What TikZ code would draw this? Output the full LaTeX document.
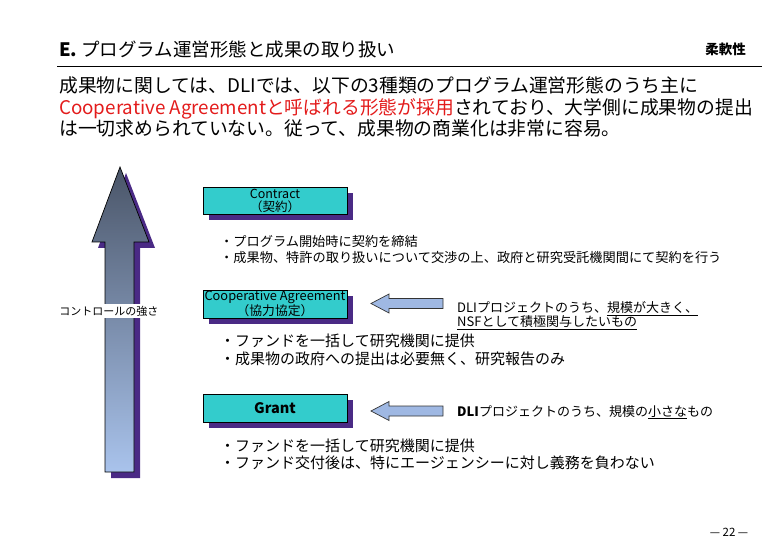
\documentclass[tikz,border=0pt]{standalone}
\usepackage{fontspec}
\setmainfont{Noto Sans CJK JP}
\usetikzlibrary{shadows}
\definecolor{boxfill}{HTML}{33CCCC}
\definecolor{shadowpurple}{HTML}{4A2A85}
\definecolor{arrowtop}{HTML}{4A5568}
\definecolor{arrowbottom}{HTML}{A9C3EC}
\definecolor{sideblue}{HTML}{9FB8E3}
\definecolor{textred}{HTML}{E31B1B}

\begin{document}
\begin{tikzpicture}[x=1pt, y=-1pt,
	formbox/.style={draw=black, fill=boxfill, minimum width=144pt, inner sep=0pt, align=center,
		drop shadow={shadow xshift=6pt, shadow yshift=-6pt, fill=shadowpurple, opacity=1}},
	txt/.style={anchor=base west, inner sep=0pt},
	sidearrow/.style={draw=black!80, fill=sideblue, line width=0.7pt}]
	\useasboundingbox (0,0) rectangle (780,540);

	\node[txt, font=\fontsize{18.5}{18.5}\selectfont] (title) at (59,57) {\textbf{E.} プログラム運営形態と成果の取り扱い};
	\node[anchor=base east, inner sep=0pt, font=\bfseries\fontsize{13.5}{13.5}\selectfont] (flex) at (746,55) {柔軟性};
	\draw[line width=1pt] (57,67) -- (762,67);

	\node[txt, font=\fontsize{18.8}{18.8}\selectfont] (lineA) at (59,93) {成果物に関しては、DLIでは、以下の3種類のプログラム運営形態のうち主に};
	\node[txt, font=\fontsize{18.8}{18.8}\selectfont] (lineB) at (59,114.5) {\textcolor{textred}{Cooperative Agreementと呼ばれる形態が採用}されており、大学側に成果物の提出};
	\node[txt, font=\fontsize{18.8}{18.8}\selectfont] (lineC) at (59,136) {は一切求められていない。従って、成果物の商業化は非常に容易。};

	\fill[shadowpurple, shift={(6,6)}] (120,167) -- (149,242) -- (134,242) -- (134,472) -- (105,472) -- (105,242) -- (92,242) -- cycle;
	\shadedraw[top color=arrowtop, bottom color=arrowbottom, draw=black, line width=0.7pt] (120,167) -- (149,242) -- (134,242) -- (134,472) -- (105,472) -- (105,242) -- (92,242) -- cycle;
	\node[fill=white, inner sep=1.5pt, font=\fontsize{11}{11}\selectfont] (ctrl) at (109,311) {コントロールの強さ};

	\node[formbox, minimum height=27pt, font=\fontsize{12.5}{13}\selectfont] (contract) at (275,200.5) {Contract\\（契約）};
	\node[txt, font=\fontsize{13.2}{13.2}\selectfont] (contractA) at (220,247) {・プログラム開始時に契約を締結};
	\node[txt, font=\fontsize{13.2}{13.2}\selectfont] (contractB) at (220,263) {・成果物、特許の取り扱いについて交渉の上、政府と研究受託機関間にて契約を行う};

	\node[formbox, minimum height=28pt, font=\fontsize{12.8}{12.5}\selectfont] (coop) at (275,304) {Cooperative Agreement\\（協力協定）};
	\draw[sidearrow] (371,303.5) -- (389,294) -- (389,298.5) -- (443,298.5) -- (443,308.5) -- (389,308.5) -- (389,313) -- cycle;
	\node[txt, font=\fontsize{13}{13}\selectfont] (coopA) at (457,313) {DLIプロジェクトのうち、\underline{規模が大きく、}};
	\node[txt, font=\fontsize{13}{13}\selectfont] (coopB) at (457,327) {\underline{NSFとして積極関与したいもの}};
	\node[txt, font=\fontsize{15}{15}\selectfont] (coopC) at (220,347) {・ファンドを一括して研究機関に提供};
	\node[txt, font=\fontsize{15}{15}\selectfont] (coopD) at (220,364) {・成果物の政府への提出は必要無く、研究報告のみ};

	\node[formbox, minimum height=28pt, font=\bfseries\fontsize{14.5}{14.5}\selectfont] (grant) at (275,408) {Grant};
	\draw[sidearrow] (371,411) -- (389,401.5) -- (389,406) -- (443,406) -- (443,416) -- (389,416) -- (389,420.5) -- cycle;
	\node[txt, font=\fontsize{13}{13}\selectfont] (grantA) at (457,416) {\textbf{DLI}プロジェクトのうち、規模の\underline{小さな}もの};
	\node[txt, font=\fontsize{15}{15}\selectfont] (grantB) at (220,451.5) {・ファンドを一括して研究機関に提供};
	\node[txt, font=\fontsize{15}{15}\selectfont] (grantC) at (220,468.5) {・ファンド交付後は、特にエージェンシーに対し義務を負わない};

	\node[font=\fontsize{11.5}{11.5}\selectfont] (page) at (729,532) {— 22 —};
\end{tikzpicture}
\end{document}
